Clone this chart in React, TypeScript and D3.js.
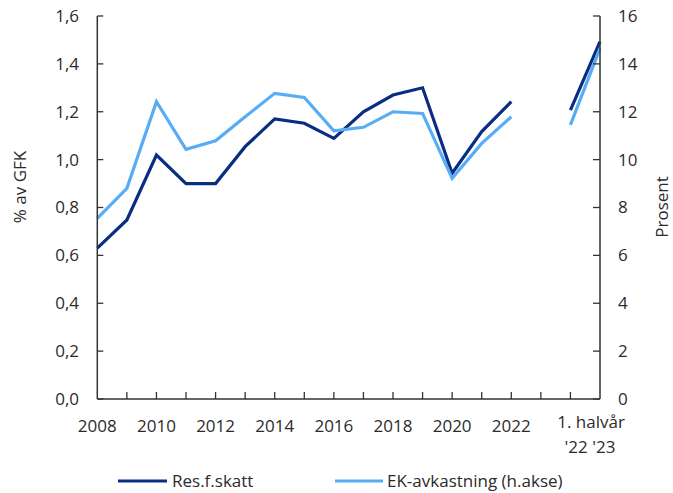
import React from "react";
import * as d3 from "d3";

const categories = ["2008","2009","2010","2011","2012","2013","2014","2015","2016","2017","2018","2019","2020","2021","2022","","H1-22","H1-23"];
const yearLabels = ["2008","2010","2012","2014","2016","2018","2020","2022"];
const resFSkatt: (number | null)[] = [0.63,0.748,1.019,0.90,0.90,1.054,1.17,1.152,1.089,1.20,1.27,1.30,0.943,1.117,1.242,null,1.207,1.493];
const ekAvkastning: (number | null)[] = [7.55,8.80,12.42,10.43,10.79,11.79,12.77,12.60,11.2,11.35,12.0,11.93,9.22,10.68,11.79,null,11.45,14.65];
const leftTicks = [0,0.2,0.4,0.6,0.8,1.0,1.2,1.4,1.6];
const rightTicks = [0,2,4,6,8,10,12,14,16];
const seriesNames = ["Res.f.skatt","EK-avkastning (h.akse)"];

const W = 673, H = 493;
const L = 97.3, R = 600, T = 16, B = 399;
const DARK = "#0a2d84";
const LIGHT = "#57adf5";
const AXIS = "#333";
const TXT = "#2b2b2b";
const FONT = "'Open Sans', sans-serif";
const FS = 17;

export default function App() {
  const x = d3.scalePoint<number>().domain(d3.range(categories.length)).range([L, R]);
  const yL = d3.scaleLinear().domain([0, 1.6]).range([B, T]);
  const yR = d3.scaleLinear().domain([0, 16]).range([B, T]);

  const lineL = d3.line<number | null>()
    .defined((d) => d != null)
    .x((_, i) => x(i) as number)
    .y((d) => yL(d as number));
  const lineR = d3.line<number | null>()
    .defined((d) => d != null)
    .x((_, i) => x(i) as number)
    .y((d) => yR(d as number));

  const fmt = (v: number) => v.toFixed(1).replace(".", ",");

  return (
    <svg width={W} height={H} style={{ position: "absolute", left: 0, top: 0, background: "#fff" }} fontFamily={FONT}>
      {/* lines */}
      <path d={lineL(resFSkatt) || ""} fill="none" stroke={DARK} strokeWidth={3.2} strokeLinejoin="miter" />
      <path d={lineR(ekAvkastning) || ""} fill="none" stroke={LIGHT} strokeWidth={3.2} strokeLinejoin="miter" />

      {/* left axis */}
      <line x1={L} x2={L} y1={T} y2={B} stroke={AXIS} strokeWidth={1.5} />
      {leftTicks.map((t) => (
        <g key={"l" + t}>
          <line x1={L} x2={L + 6} y1={yL(t)} y2={yL(t)} stroke={AXIS} strokeWidth={1.3} />
          <text x={79} y={yL(t)} dy="0.35em" textAnchor="end" fontSize={FS} fill={TXT}>{fmt(t)}</text>
        </g>
      ))}
      {/* right axis */}
      <line x1={R} x2={R} y1={T} y2={B} stroke={AXIS} strokeWidth={1.5} />
      {rightTicks.map((t) => (
        <g key={"r" + t}>
          <line x1={R - 7} x2={R} y1={yR(t)} y2={yR(t)} stroke={AXIS} strokeWidth={1.3} />
          <text x={618} y={yR(t)} dy="0.35em" textAnchor="start" fontSize={FS} fill={TXT}>{t}</text>
        </g>
      ))}
      {/* bottom axis */}
      <line x1={L} x2={R} y1={B} y2={B} stroke={AXIS} strokeWidth={1.5} />
      {categories.map((c, i) => (i > 0 && i < categories.length - 1 ? (
        <line key={"b" + i} x1={x(i)} x2={x(i)} y1={B} y2={B - 7} stroke={AXIS} strokeWidth={1.3} />
      ) : null))}
      {yearLabels.map((lab) => (
        <text key={lab} x={x(categories.indexOf(lab))} y={432} textAnchor="middle" fontSize={FS} fill={TXT}>{lab}</text>
      ))}
      <text x={591} y={428} textAnchor="middle" fontSize={FS} fill={TXT}>1. halvår</text>
      <text x={590} y={453} textAnchor="middle" fontSize={FS} fill={TXT}>'22 '23</text>

      {/* axis titles */}
      <text transform={`translate(26,187) rotate(-90)`} textAnchor="middle" fontSize={FS} fill={TXT}>% av GFK</text>
      <text transform={`translate(668,207) rotate(-90)`} textAnchor="middle" fontSize={FS} fill={TXT}>Prosent</text>

      {/* legend */}
      <line x1={118} x2={167} y1={481} y2={481} stroke={DARK} strokeWidth={3.2} />
      <text x={172} y={481} dy="0.35em" fontSize={FS} fill={TXT}>{seriesNames[0]}</text>
      <line x1={335} x2={383} y1={481} y2={481} stroke={LIGHT} strokeWidth={3.2} />
      <text x={387} y={481} dy="0.35em" fontSize={FS} fill={TXT}>{seriesNames[1]}</text>
    </svg>
  );
}
